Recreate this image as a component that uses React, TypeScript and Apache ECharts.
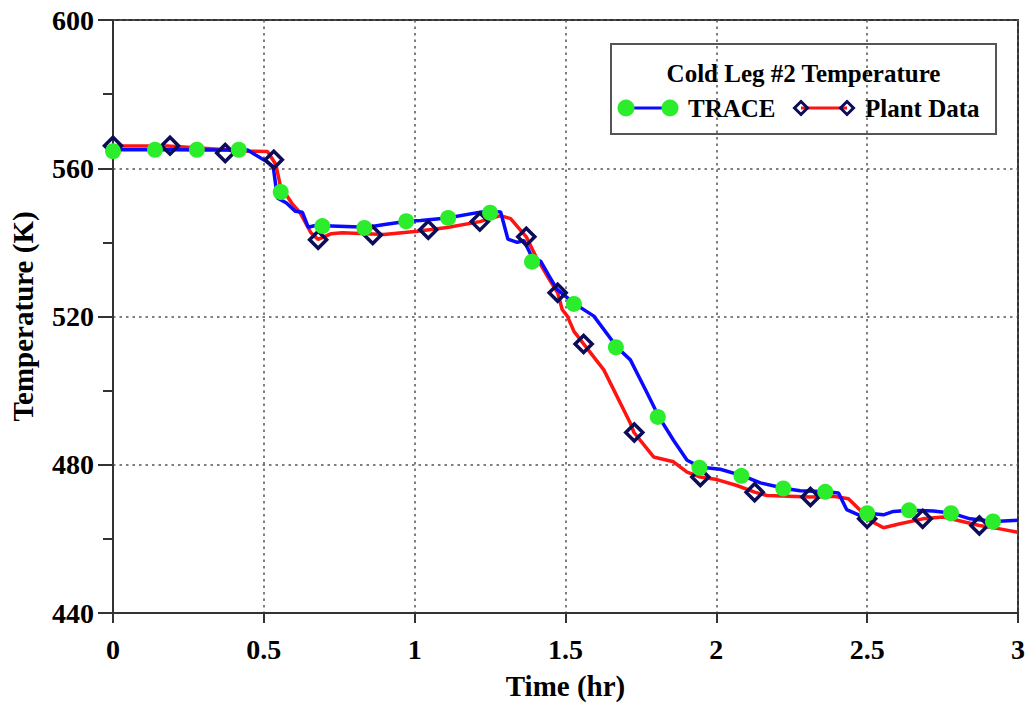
import React, { useEffect, useRef } from "react";
import * as echarts from "echarts";

// ---- Data ----
const xTicks = [0, 0.5, 1, 1.5, 2, 2.5, 3];
const yTicks = [440, 480, 520, 560, 600];

const traceTime = [0, 0.1, 0.2, 0.3, 0.42, 0.446, 0.509, 0.531, 0.545, 0.575, 0.604, 0.628, 0.647, 0.667, 0.7, 0.843, 0.9, 0.976, 1.02, 1.108, 1.241, 1.285, 1.309, 1.34, 1.362, 1.379, 1.395, 1.417, 1.445, 1.472, 1.531, 1.594, 1.671, 1.715, 1.771, 1.809, 1.858, 1.903, 1.95, 2.013, 2.088, 2.146, 2.228, 2.278, 2.366, 2.405, 2.432, 2.477, 2.504, 2.554, 2.587, 2.644, 2.719, 2.782, 2.841, 2.921, 3.0];
const traceTemp = [565.0, 565.0, 565.0, 564.9, 564.9, 564.9, 561.8, 560.5, 552.0, 550.6, 548.4, 548.1, 544.1, 544.5, 544.5, 544.1, 544.8, 545.7, 545.9, 546.6, 548.5, 548.2, 540.9, 540.0, 540.5, 537.7, 534.8, 535.0, 531.0, 527.3, 523.4, 520.1, 511.7, 508.3, 499.3, 493.0, 486.6, 481.2, 479.3, 478.8, 477.0, 475.1, 473.6, 473.0, 472.7, 472.4, 467.9, 466.3, 466.9, 466.5, 467.4, 467.7, 467.5, 466.9, 465.4, 464.7, 465.0];

const plantTime = [0, 0.18, 0.3, 0.446, 0.512, 0.54, 0.555, 0.595, 0.62, 0.656, 0.68, 0.722, 0.76, 0.898, 1.009, 1.108, 1.216, 1.285, 1.318, 1.37, 1.401, 1.439, 1.474, 1.489, 1.506, 1.528, 1.56, 1.627, 1.66, 1.715, 1.727, 1.792, 1.858, 1.903, 1.947, 2.002, 2.068, 2.127, 2.168, 2.312, 2.388, 2.438, 2.477, 2.5, 2.554, 2.609, 2.684, 2.753, 2.872, 2.94, 3.0];
const plantTemp = [566.0, 566.0, 565.4, 564.6, 564.5, 561.0, 555.2, 550.3, 548.0, 542.6, 540.8, 542.3, 542.6, 542.1, 543.0, 544.0, 545.6, 547.2, 546.4, 541.5, 536.3, 531.0, 526.4, 521.9, 520.1, 516.0, 512.6, 505.6, 500.2, 491.2, 488.7, 482.1, 480.8, 478.0, 476.7, 476.0, 474.4, 472.6, 471.7, 471.3, 471.5, 470.8, 467.7, 465.4, 463.0, 464.1, 465.4, 465.9, 463.6, 462.7, 461.8];

const traceMarkTime = [0, 0.139, 0.278, 0.417, 0.556, 0.694, 0.833, 0.972, 1.111, 1.25, 1.389, 1.528, 1.667, 1.806, 1.944, 2.083, 2.222, 2.361, 2.5, 2.639, 2.778, 2.917];
const traceMarkTemp = [564.6, 565.0, 565.0, 565.0, 553.6, 544.4, 543.9, 545.7, 546.6, 548.0, 534.8, 523.4, 511.7, 492.9, 479.2, 477.0, 473.6, 472.7, 466.9, 467.7, 466.9, 464.7];

const plantMarkTime = [0, 0.189, 0.372, 0.533, 0.68, 0.861, 1.045, 1.216, 1.37, 1.474, 1.56, 1.728, 1.947, 2.127, 2.312, 2.5, 2.684, 2.872];
const plantMarkTemp = [566.1, 566.1, 564.1, 562.3, 540.7, 542.0, 543.4, 545.6, 541.5, 526.4, 512.6, 488.7, 476.7, 472.6, 471.3, 465.4, 465.4, 463.6];

const legendTitle = "Cold Leg #2 Temperature";
const seriesNames = ["TRACE", "Plant Data"];

const FONT = "'Liberation Serif', 'Times New Roman', serif";
const BLUE = "#0a0aff";
const RED = "#ff1414";
const GREEN = "#2ced2c";
const NAVY = "#0c0c58";

const zip = (a: number[], b: number[]) => a.map((v, i) => [v, b[i]]);

export default function App() {
  const ref = useRef<HTMLDivElement>(null);
  useEffect(() => {
    if (!ref.current) return;
    const chart = echarts.init(ref.current, null, { renderer: "svg" });
    const lx = 611, ly = 44, lw = 385, lh = 90;
    const iy = 108;
    chart.setOption({
      animation: false,
      backgroundColor: "#fff",
      grid: {
        left: 113,
        right: 14,
        top: 20,
        bottom: 96,
        containLabel: false,
        outerBoundsMode: "none",
        show: true,
        borderColor: "#333",
        borderWidth: 2,
        backgroundColor: "transparent",
      },
      xAxis: {
        type: "value",
        min: xTicks[0],
        max: xTicks[xTicks.length - 1],
        interval: 0.5,
        name: "Time (hr)",
        nameLocation: "middle",
        nameGap: 58,
        nameTextStyle: { fontFamily: FONT, fontWeight: "bold", fontSize: 29, color: "#000" },
        axisLine: { lineStyle: { color: "#333", width: 2 } },
        axisTick: { show: true, length: 10, lineStyle: { color: "#333", width: 2 } },
        axisLabel: { fontFamily: FONT, fontWeight: "bold", fontSize: 28, color: "#000", margin: 22 },
        splitLine: { show: true, lineStyle: { color: "#555", width: 1.5, type: [2.5, 4] } },
      },
      yAxis: {
        type: "value",
        min: yTicks[0],
        max: yTicks[yTicks.length - 1],
        interval: 40,
        name: "Temperature (K)",
        nameLocation: "middle",
        nameGap: 76,
        nameTextStyle: { fontFamily: FONT, fontWeight: "bold", fontSize: 29, color: "#000" },
        axisLine: { show: true, lineStyle: { color: "#333", width: 2 } },
        axisTick: { show: true, length: 15, lineStyle: { color: "#333", width: 2 } },
        minorTick: { show: true, splitNumber: 2, length: 10, lineStyle: { color: "#333", width: 2 } },
        axisLabel: { fontFamily: FONT, fontWeight: "bold", fontSize: 28, color: "#000", margin: 19 },
        splitLine: { show: true, lineStyle: { color: "#555", width: 1.5, type: [2.5, 4] } },
      },
      series: [
        {
          name: seriesNames[1] + " line",
          type: "line",
          data: zip(plantTime, plantTemp),
          showSymbol: false,
          symbol: "none",
          lineStyle: { color: RED, width: 3.5 },
          z: 2,
        },
        {
          name: seriesNames[0] + " line",
          type: "line",
          data: zip(traceTime, traceTemp),
          showSymbol: false,
          symbol: "none",
          lineStyle: { color: BLUE, width: 3.5 },
          z: 3,
        },
        {
          name: seriesNames[1],
          type: "scatter",
          data: zip(plantMarkTime, plantMarkTemp),
          symbol: "diamond",
          symbolSize: [17, 17],
          itemStyle: { color: "rgba(0,0,0,0)", borderColor: NAVY, borderWidth: 3.5, opacity: 1 },
          z: 4,
        },
        {
          name: seriesNames[0],
          type: "scatter",
          data: zip(traceMarkTime, traceMarkTemp),
          symbol: "circle",
          symbolSize: 16,
          itemStyle: { color: GREEN, opacity: 1 },
          z: 5,
        },
      ],
      graphic: [
        {
          type: "group",
          z: 100,
          children: [
            {
              type: "rect",
              shape: { x: lx, y: ly, width: lw, height: lh },
              style: { fill: "#fff", stroke: "#555", lineWidth: 2 },
            },
            {
              type: "text",
              x: lx + lw / 2,
              y: 73,
              style: {
                text: legendTitle,
                font: `bold 25px ${FONT}`,
                fill: "#000",
                align: "center",
                verticalAlign: "middle",
              },
            },
            {
              type: "line",
              shape: { x1: 626, y1: iy, x2: 670, y2: iy },
              style: { stroke: BLUE, lineWidth: 3 },
            },
            { type: "circle", shape: { cx: 626, cy: iy, r: 8.5 }, style: { fill: GREEN } },
            { type: "circle", shape: { cx: 670, cy: iy, r: 8.5 }, style: { fill: GREEN } },
            {
              type: "text",
              x: 688,
              y: iy,
              style: { text: seriesNames[0], font: `bold 25px ${FONT}`, fill: "#000", verticalAlign: "middle" },
            },
            {
              type: "line",
              shape: { x1: 801, y1: iy, x2: 847, y2: iy },
              style: { stroke: RED, lineWidth: 3 },
            },
            {
              type: "polygon",
              shape: { points: [[801, iy - 6.5], [807.5, iy], [801, iy + 6.5], [794.5, iy]] },
              style: { fill: "none", stroke: NAVY, lineWidth: 3 },
            },
            {
              type: "polygon",
              shape: { points: [[847, iy - 6.5], [853.5, iy], [847, iy + 6.5], [840.5, iy]] },
              style: { fill: "none", stroke: NAVY, lineWidth: 3 },
            },
            {
              type: "text",
              x: 865,
              y: iy,
              style: { text: seriesNames[1], font: `bold 25px ${FONT}`, fill: "#000", verticalAlign: "middle" },
            },
          ],
        },
      ],
    });
    return () => chart.dispose();
  }, []);
  return (
    <div
      ref={ref}
      style={{ position: "absolute", left: 0, top: 0, width: 1032, height: 709, background: "#fff" }}
    />
  );
}
